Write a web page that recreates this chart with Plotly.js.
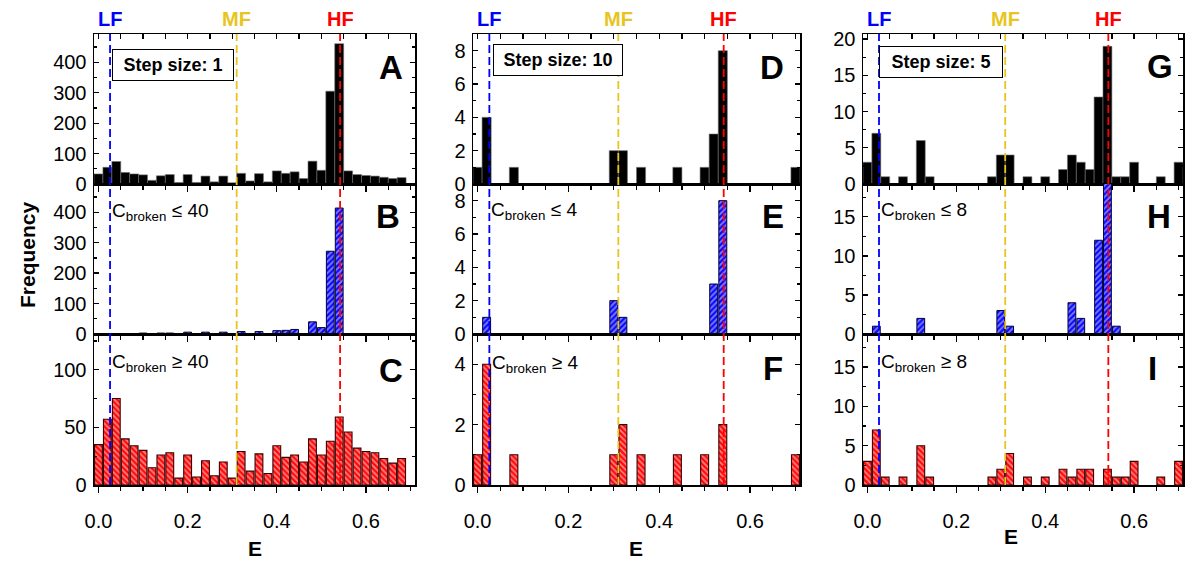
<!DOCTYPE html>
<html>
<head>
<meta charset="utf-8">
<script src="https://cdn.plot.ly/plotly-3.0.1.min.js"></script>
<style>html,body{margin:0;padding:0;background:#fff;}#chart{width:1189px;height:564px;}</style>
</head>
<body>
<div id="chart"></div>
<script>
// ---------------- DATA ----------------
// Column 1 (step size 1): bin centres of E and counts
const eCol1 = [0.00,0.02,0.04,0.06,0.08,0.10,0.12,0.14,0.16,0.18,0.20,0.22,0.24,0.26,0.28,0.30,0.32,0.34,0.36,0.38,0.40,0.42,0.44,0.46,0.48,0.50,0.52,0.54,0.56,0.58,0.60,0.62,0.64,0.66,0.68];
const countA = [33,55,74,38,33,30,12,27,31,5,31,5,26,7,26,4,35,10,34,7,43,35,40,18,75,45,305,461,43,31,28,26,22,18,21];
const countB = [0,0,0,0,0,3,0,3,3,0,6,0,6,0,6,0,8,0,8,0,11,12,15,0,40,21,272,414,0,0,0,0,0,0,0];
const countC = [35,57,75,40,34,30,15,26,28,6,26,7,21,8,20,6,29,12,27,10,34,24,26,20,40,26,38,59,46,32,29,28,23,19,23];

// Column 2 (step size 10)
const eD = [0.00,0.02,0.08,0.30,0.32,0.36,0.44,0.50,0.52,0.54,0.70];
const countD = [1,4,1,2,2,1,1,1,3,8,1];
const eE = [0.02,0.30,0.32,0.52,0.54];
const countE = [1,2,1,3,8];
const eF = [0.00,0.02,0.08,0.30,0.32,0.36,0.44,0.50,0.54,0.70];
const countF = [1,4,1,1,2,1,1,1,2,1];

// Column 3 (step size 5)
const eG = [0.00,0.02,0.04,0.08,0.12,0.14,0.28,0.30,0.32,0.36,0.40,0.44,0.46,0.48,0.50,0.52,0.54,0.56,0.58,0.60,0.66,0.70];
const countG = [3,7,1,1,6,1,1,4,4,1,1,2,4,3,2,12,19,1,1,3,1,3];
const eH = [0.02,0.12,0.30,0.32,0.46,0.48,0.52,0.54,0.56];
const countH = [1,2,3,1,4,2,12,20,1];
const eI = [0.00,0.02,0.04,0.08,0.12,0.14,0.28,0.30,0.32,0.36,0.40,0.44,0.46,0.48,0.50,0.54,0.56,0.58,0.60,0.66,0.70];
const countI = [3,7,1,1,5,1,1,2,4,1,1,2,1,2,2,2,1,1,3,1,3];

// Reference energies
const refNames = ['LF','MF','HF'];
const refE = [0.026, 0.31, 0.542];

// Text
const panelLetters = ['A','B','C','D','E','F','G','H','I'];
const stepLabels = ['Step size: 1','Step size: 10','Step size: 5'];
const cbrokenLabels = ['C<sub>broken</sub> ≤ 40','C<sub>broken</sub> ≥ 40','C<sub>broken</sub> ≤ 4','C<sub>broken</sub> ≥ 4','C<sub>broken</sub> ≤ 8','C<sub>broken</sub> ≥ 8'];
const xTitle = 'E';
const yTitle = 'Frequency';

// ---------------- LAYOUT HELPERS ----------------
const W = 1189, H = 564;
const px = x => x / W;
const py = y => 1 - y / H;
const FONT = 'Arial, "Liberation Sans", Helvetica, sans-serif';

const colDom = [[px(94), px(415)], [px(473), px(800)], [px(863), px(1183)]];
const rowPx = [[34,184],[184,334],[334,485]];
const rowDom = rowPx.map(r => [py(r[1]), py(r[0])]);

const panels = [
  {x:eCol1, y:countA, kind:'solid'},
  {x:eCol1, y:countB, kind:'blue'},
  {x:eCol1, y:countC, kind:'red'},
  {x:eD, y:countD, kind:'solid'},
  {x:eE, y:countE, kind:'blue'},
  {x:eF, y:countF, kind:'red'},
  {x:eG, y:countG, kind:'solid'},
  {x:eH, y:countH, kind:'blue'},
  {x:eI, y:countI, kind:'red'}
];
const yRanges = [[0,493],[0,493],[0,131],[0,9],[0,9],[0,5],[0,20.7],[0,19.2],[0,19.2]];
const yDticks = [100,100,50,2,2,2,5,5,5];
const yMinor = [50,50,25,1,1,1,2.5,2.5,2.5];
const xRange = [-0.01, 0.71];

const traces = [];
const layout = {
  width: W, height: H,
  margin: {l:0, r:0, t:0, b:0},
  paper_bgcolor: '#fff', plot_bgcolor: '#fff',
  showlegend: false,
  font: {family: FONT, color: '#000', size: 20},
  shapes: [], annotations: []
};

panels.forEach((p, i) => {
  const c = Math.floor(i / 3), r = i % 3;
  const xn = i === 0 ? 'x' : 'x' + (i + 1);
  const yn = i === 0 ? 'y' : 'y' + (i + 1);
  let marker, width;
  if (p.kind === 'solid') {
    marker = {color:'#000', line:{color:'#707070', width:0.6}};
    width = 0.02;
  } else if (p.kind === 'blue') {
    marker = {color:'#0a0aff', line:{color:'#000033', width:1},
              pattern:{shape:'/', fillmode:'overlay', fgcolor:'#fff', size:4, solidity:0.42}};
    width = 0.0175;
  } else {
    marker = {color:'#ff0a0a', line:{color:'#3a0000', width:1.1},
              pattern:{shape:'\\', fillmode:'overlay', fgcolor:'#fff', size:4, solidity:0.42}};
    width = 0.0175;
  }
  traces.push({type:'bar', x:p.x, y:p.y, xaxis:xn, yaxis:yn, width:width, marker:marker, hoverinfo:'x+y'});

  const xk = i === 0 ? 'xaxis' : 'xaxis' + (i + 1);
  const yk = i === 0 ? 'yaxis' : 'yaxis' + (i + 1);
  layout[xk] = {
    domain: colDom[c], anchor: yn, range: xRange,
    tick0: 0, dtick: 0.2, tickformat: '.1f',
    ticks: 'outside', ticklen: 6, tickwidth: 1.3, tickcolor: '#000',
    minor: {dtick: 0.05, ticks: 'outside', ticklen: 4, tickwidth: 1.3, tickcolor: '#000'},
    showline: true, linecolor: '#000', linewidth: 1.5, mirror: true,
    showgrid: false, zeroline: false,
    showticklabels: r === 2, tickfont: {size: 20, family: FONT}, ticklabelstandoff: 11,
    fixedrange: true
  };
  layout[yk] = {
    domain: rowDom[r], anchor: xn, range: yRanges[i],
    tick0: 0, dtick: yDticks[i],
    ticks: 'inside', ticklen: 5, tickwidth: 1.3, tickcolor: '#000',
    minor: {dtick: yMinor[i], ticks: 'inside', ticklen: 3, tickwidth: 1.3, tickcolor: '#000'},
    showline: true, linecolor: '#000', linewidth: 1.5, mirror: 'ticks',
    showgrid: false, zeroline: false,
    tickfont: {size: 20, family: FONT}, ticklabelstandoff: 2,
    fixedrange: true
  };
});

// top inside ticks for top row (overlay axes)
[0,3,6].forEach((i, k) => {
  const base = i === 0 ? 'x' : 'x' + (i + 1);
  const yn = i === 0 ? 'y' : 'y' + (i + 1);
  const name = 'x' + (10 + k);
  layout['xaxis' + (10 + k)] = {
    overlaying: base, side: 'top', anchor: yn, range: xRange,
    tick0: 0, dtick: 0.2, ticks: 'inside', ticklen: 5, tickwidth: 1.3, tickcolor: '#000',
    minor: {dtick: 0.05, ticks: 'inside', ticklen: 5, tickwidth: 1.3, tickcolor: '#000'},
    showticklabels: false, showline: false, showgrid: false, zeroline: false, fixedrange: true
  };
  traces.push({type:'scatter', mode:'markers', x:[null], y:[null], xaxis:name, yaxis:yn, hoverinfo:'skip', showlegend:false});
});

// reference lines and their labels
const refColors = ['#0000ff', '#e8c51e', '#ff0000'];
const colX = ['x', 'x4', 'x7'];
colX.forEach((xr, c) => {
  refE.forEach((e, k) => {
    layout.shapes.push({type:'line', xref:xr, yref:'paper', x0:e, x1:e, y0:py(485), y1:py(34),
      line:{color:refColors[k], width:1.8, dash:'8px,4px'}, layer:'above'});
    layout.annotations.push({xref:xr, yref:'paper', x:e, y:py(19), text:'<b>' + refNames[k] + '</b>',
      showarrow:false, xanchor:'center', yanchor:'middle', font:{size:20, color:refColors[k], family:FONT}});
  });
});

// panel letters
const letterPos = [[391,68],[388,217],[391,370],[772,68],[773,217],[773,368],[1160,67],[1159,216],[1152,368]];
panelLetters.forEach((t, i) => {
  layout.annotations.push({xref:'paper', yref:'paper', x:px(letterPos[i][0]), y:py(letterPos[i][1]),
    text:'<b>' + t + '</b>', showarrow:false, xanchor:'center', yanchor:'middle',
    font:{size:33, family:FONT, color:'#000'}});
});

// step size boxes
const stepPos = [[172.5,64.5,112],[557.7,59.5,120],[940.8,61.7,114]];
stepLabels.forEach((t, c) => {
  layout.annotations.push({xref:'paper', yref:'paper', x:px(stepPos[c][0]), y:py(stepPos[c][1]),
    text:'<b>' + t + '</b>', showarrow:false, xanchor:'center', yanchor:'middle',
    width: stepPos[c][2], height: 22, align:'center',
    bordercolor:'#000', borderwidth:1, borderpad:4, bgcolor:'#fff',
    font:{size:18, family:FONT, color:'#000'}});
});

// C_broken labels
const cbPos = [[110,212],[110,363],[489,211],[490,364],[879,211],[879,363]];
cbrokenLabels.forEach((t, k) => {
  layout.annotations.push({xref:'paper', yref:'paper', x:px(cbPos[k][0]), y:py(cbPos[k][1]),
    text:t, showarrow:false, xanchor:'left', yanchor:'middle',
    font:{size:19, family:FONT, color:'#000'}});
});

// axis titles
const xTitlePos = [[255,548],[636,548],[1011,536]];
xTitlePos.forEach(p => {
  layout.annotations.push({xref:'paper', yref:'paper', x:px(p[0]), y:py(p[1]), text:'<b>' + xTitle + '</b>',
    showarrow:false, xanchor:'center', yanchor:'middle', font:{size:21, family:FONT, color:'#000'}});
});
layout.annotations.push({xref:'paper', yref:'paper', x:px(27), y:py(255), text:'<b>' + yTitle + '</b>',
  showarrow:false, textangle:-90, xanchor:'center', yanchor:'middle', font:{size:21, family:FONT, color:'#000'}});

Plotly.newPlot('chart', traces, layout, {staticPlot:true, displayModeBar:false});
</script>
</body>
</html>
